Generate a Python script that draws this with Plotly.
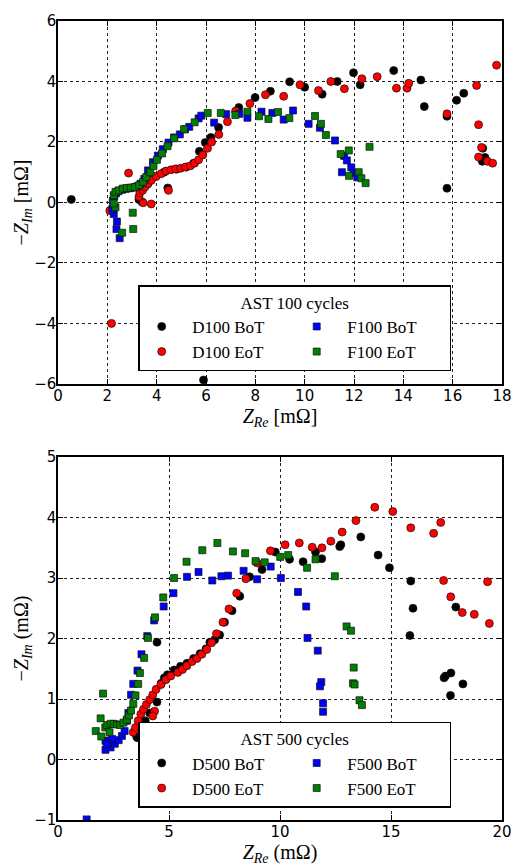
import plotly.graph_objects as go

# ---------------- top panel: AST 100 cycles ----------------
d100_bot_x = [0.54, 5.90, 3.28, 3.40, 4.45, 3.62, 3.92, 4.30, 4.80, 5.20, 5.50,
              5.73, 5.97, 6.20, 6.51, 7.33, 7.99, 8.61, 9.39, 10.00, 10.71, 11.32,
              11.98, 12.25, 13.61, 14.71, 14.85, 15.77, 16.16, 16.45, 15.77, 17.22,
              17.31, 17.20]
d100_bot_y = [0.10, -5.87, 0.10, 0.02, 0.48, 0.60, 0.85, 1.00, 1.10, 1.17, 1.30,
              1.69, 1.98, 2.15, 2.48, 3.14, 3.47, 3.68, 3.99, 3.81, 3.58, 4.00,
              4.29, 3.89, 4.36, 4.05, 3.17, 2.85, 3.38, 3.61, 0.47, 1.79,
              1.49, 1.36]

d100_eot_x = [2.86, 2.17, 2.10, 3.45, 3.78, 4.48, 3.28, 3.32, 3.43, 3.52, 3.65,
              3.78, 3.98, 4.18, 4.38, 4.58, 4.77, 4.97, 5.17, 5.37, 5.54, 5.70,
              5.87, 6.06, 6.23, 6.52, 6.87, 7.20, 7.78, 8.41, 9.15, 9.81, 10.56,
              11.06, 11.61, 12.32, 12.94, 13.72, 14.15, 14.22, 15.77, 16.97, 17.05,
              17.17, 17.05, 17.41, 17.62, 17.78]
d100_eot_y = [0.97, -4.00, -0.27, -0.01, -0.05, 0.40, 0.19, 0.32, 0.40, 0.51, 0.62,
              0.73, 0.86, 0.95, 1.04, 1.08, 1.11, 1.13, 1.17, 1.21, 1.30, 1.41,
              1.57, 1.79, 2.00, 2.25, 2.67, 3.02, 3.27, 3.56, 3.51, 3.89, 3.70,
              4.00, 3.76, 4.09, 4.16, 3.78, 3.78, 3.94, 2.93, 3.87, 2.57,
              1.82, 1.50, 1.36, 1.30, 4.54]

f100_bot_x = [2.50, 2.37, 2.39, 2.26, 2.20, 2.22, 2.28, 2.35, 2.45, 2.60, 2.75,
              2.90, 3.05, 3.20, 3.35, 3.50, 3.65, 3.85, 4.05, 4.25, 4.48, 4.71,
              4.94, 5.15, 5.32, 5.70, 5.81, 6.33, 6.82, 7.35, 7.68, 8.25, 8.69,
              9.15, 9.53, 10.16, 10.62, 11.23, 11.60, 11.71, 11.89, 11.51, 11.99,
              12.13]
f100_bot_y = [-1.18, -0.88, -0.63, -0.38, -0.22, 0.05, 0.20, 0.30, 0.37, 0.42, 0.45,
              0.47, 0.49, 0.53, 0.62, 0.78, 1.06, 1.33, 1.55, 1.76, 1.98, 2.15,
              2.25, 2.42, 2.50, 2.78, 2.87, 2.64, 2.92, 2.93, 2.80, 3.00, 2.96,
              2.74, 3.04, 2.60, 2.47, 2.05, 1.54, 1.39, 1.16, 1.00, 0.98,
              0.83]

f100_eot_x = [2.33, 2.26, 2.60, 3.03, 3.05, 2.26, 2.33, 2.46, 2.63, 2.79, 2.95,
              3.12, 3.29, 3.45, 3.58, 3.74, 3.87, 4.01, 4.22, 4.44, 4.71, 5.11,
              5.54, 6.07, 6.60, 7.19, 7.68, 8.15, 8.53, 8.92, 9.38, 10.42, 10.66,
              10.86, 11.46, 11.79, 11.80, 12.19, 12.30, 12.47, 12.63]
f100_eot_y = [-0.16, -0.03, -1.00, -0.34, -0.88, 0.24, 0.35, 0.40, 0.46, 0.48, 0.49,
              0.51, 0.57, 0.68, 0.84, 1.00, 1.20, 1.41, 1.62, 1.86, 2.12, 2.42,
              2.65, 2.96, 2.96, 2.89, 3.00, 2.85, 2.76, 2.99, 2.79, 2.86, 2.60,
              2.23, 1.60, 1.72, 0.88, 1.00, 0.80, 0.64, 1.84]

# ---------------- bottom panel: AST 500 cycles ----------------
d500_bot_x = [3.54, 3.58, 3.93, 4.13, 4.46, 4.46, 4.65, 4.79, 4.93, 5.23, 5.52,
              5.81, 6.11, 6.40, 6.67, 6.84, 7.06, 7.28, 7.50, 7.84, 8.19, 8.63,
              9.19, 9.79, 10.43, 11.04, 11.60, 11.88, 12.69, 12.74, 13.64, 14.42,
              14.93, 15.89, 15.99, 15.85, 17.92, 17.39, 17.45, 17.70, 18.24, 17.68]
d500_bot_y = [0.38, 0.36, 0.64, 0.77, 0.95, 1.94, 1.26, 1.35, 1.40, 1.48, 1.54,
              1.59, 1.67, 1.75, 1.83, 1.94, 1.98, 2.06, 2.27, 2.46, 2.70, 3.02,
              3.14, 3.43, 3.31, 3.27, 3.43, 3.32, 3.52, 3.55, 3.68, 3.38,
              3.17, 2.95, 2.50, 2.05, 2.52, 1.35, 1.38, 1.43, 1.25, 1.06]

d500_eot_x = [3.39, 3.49, 3.61, 3.73, 3.85, 3.98, 4.13, 4.27, 4.42, 4.64, 4.86,
              5.08, 5.40, 5.61, 5.81, 6.04, 6.26, 6.48, 6.70, 6.92, 7.14, 7.43,
              7.70, 8.05, 8.46, 8.97, 9.57, 10.23, 10.87, 11.45, 11.89, 12.29,
              12.80, 13.42, 14.27, 15.08, 15.89, 16.92, 17.24, 17.37, 17.69, 18.21,
              18.75, 19.35, 19.43, 4.35, 4.27]
d500_eot_y = [0.45, 0.53, 0.64, 0.75, 0.83, 0.91, 0.99, 1.07, 1.16, 1.24, 1.32,
              1.38, 1.44, 1.49, 1.55, 1.62, 1.67, 1.74, 1.82, 1.93, 2.08, 2.27,
              2.49, 2.75, 2.99, 3.25, 3.45, 3.55, 3.58, 3.51, 3.50, 3.61,
              3.76, 3.95, 4.17, 4.10, 3.83, 3.74, 3.92, 2.96, 2.69, 2.43,
              2.40, 2.94, 2.25, 0.80, 0.72]

f500_bot_x = [1.29, 2.14, 2.37, 2.56, 2.73, 2.88, 3.00, 3.10, 3.17, 3.29, 3.39,
              3.58, 3.76, 4.02, 4.33, 4.76, 5.20, 5.81, 6.33, 6.95, 7.36, 7.66,
              8.36, 8.97, 9.58, 10.04, 10.81, 11.18, 11.24, 11.70, 11.86, 11.80,
              11.94, 11.94, 2.14, 2.29, 2.44, 2.20]
f500_bot_y = [-0.99, 0.16, 0.20, 0.26, 0.32, 0.39, 0.47, 0.64, 0.77, 1.07, 1.25,
              1.47, 1.74, 2.04, 2.30, 2.53, 2.75, 3.02, 3.10, 2.96, 3.03, 3.04,
              3.12, 2.98, 3.19, 3.00, 2.77, 2.53, 2.01, 1.80, 1.28, 1.21,
              0.93, 0.79, 0.31, 0.31, 0.34, 0.25]

f500_eot_x = [2.03, 1.92, 1.70, 1.95, 2.13, 2.22, 2.37, 2.51, 2.66, 2.80, 2.95,
              3.10, 3.20, 3.29, 3.39, 3.49, 3.61, 3.69, 3.88, 4.05, 4.37, 4.74,
              5.23, 5.79, 6.50, 7.18, 7.88, 8.43, 8.90, 9.31, 10.01, 10.37, 11.22,
              11.60, 12.47, 13.00, 13.20, 13.32, 13.29, 13.36, 13.58, 13.69, 2.32]
f500_eot_y = [1.09, 0.68, 0.47, 0.38, 0.53, 0.57, 0.59, 0.59, 0.58, 0.57, 0.61,
              0.66, 0.73, 0.81, 0.92, 1.06, 1.25, 1.43, 1.68, 2.01, 2.35, 2.68,
              3.00, 3.27, 3.46, 3.58, 3.44, 3.41, 3.28, 3.26, 3.35, 3.38, 3.17,
              3.31, 3.03, 2.20, 2.13, 1.52, 1.26, 1.24, 0.98, 0.90, 0.45]

legend_titles = ["AST 100 cycles", "AST 500 cycles"]
x_titles = ["<i>Z</i><sub><i>Re</i></sub> [mΩ]", "<i>Z</i><sub><i>Re</i></sub> (mΩ)"]
y_titles = ["−<i>Z</i><sub><i>Im</i></sub> [mΩ]", "−<i>Z</i><sub><i>Im</i></sub> (mΩ)"]

RED, BLUE, GREEN, BLACK = "#ff0000", "#0000ff", "#008000", "#000000"
SERIF = "Liberation Serif"
SANS = "DejaVu Sans"
PAD = "\u00a0\u00a0"

fig = go.Figure()


def add_set(xa, ya, legend, series):
    for name, xs, ys, color, symbol, rank in series:
        fig.add_trace(go.Scatter(
            x=xs, y=ys, mode="markers", name=PAD + name,
            xaxis=xa, yaxis=ya, legend=legend, legendrank=rank,
            marker=dict(color=color, symbol=symbol,
                        size=8 if symbol == "circle" else 7,
                        line=dict(color="#111111", width=0.7)),
        ))


add_set("x", "y", "legend", [
    ("D100 BoT", d100_bot_x, d100_bot_y, BLACK, "circle", 1),
    ("D100 EoT", d100_eot_x, d100_eot_y, RED, "circle", 3),
    ("F100 BoT", f100_bot_x, f100_bot_y, BLUE, "square", 2),
    ("F100 EoT", f100_eot_x, f100_eot_y, GREEN, "square", 4),
])
add_set("x2", "y2", "legend2", [
    ("D500 BoT", d500_bot_x, d500_bot_y, BLACK, "circle", 1),
    ("D500 EoT", d500_eot_x, d500_eot_y, RED, "circle", 3),
    ("F500 BoT", f500_bot_x, f500_bot_y, BLUE, "square", 2),
    ("F500 EoT", f500_eot_x, f500_eot_y, GREEN, "square", 4),
])

W, H = 524, 868
ML, MR, MT, MB = 58, 12, 12, 48
PH = H - MT - MB
panel = 367 / PH


def axis_common(xaxis):
    return dict(showline=True, linecolor="black", linewidth=1.5, mirror="allticks",
                ticks="inside", ticklen=5, tickwidth=1, tickcolor="black",
                showgrid=True, gridcolor="#222222", griddash="dot", gridwidth=1,
                zeroline=False, ticklabelstandoff=-3,
                tickfont=dict(family=SANS, size=15, color="black"))


def title_cfg(text, standoff):
    return dict(text=text, font=dict(family=SERIF, size=20, color="black"),
                standoff=standoff)


def legend_cfg(title, ytop):
    return dict(title=dict(text=title, side="top center",
                           font=dict(family=SERIF, size=17, color="black")),
                x=(140 - ML) / (W - ML - MR), y=ytop, xanchor="left", yanchor="top",
                orientation="h", entrywidth=106, itemwidth=34,
                bgcolor="white", bordercolor="black", borderwidth=1.5,
                font=dict(family=SERIF, size=17, color="black"))


fig.update_layout(
    width=W, height=H, margin=dict(l=ML, r=MR, t=MT, b=MB),
    paper_bgcolor="white", plot_bgcolor="white", showlegend=True,
    xaxis=dict(domain=[0, 1], anchor="y", range=[0, 18], dtick=2, tick0=0,
               title=title_cfg(x_titles[0], 0), **axis_common(True)),
    yaxis=dict(domain=[1 - panel, 1], anchor="x", range=[-6, 6], dtick=2, tick0=0,
               title=title_cfg(y_titles[0], 0), **axis_common(False)),
    xaxis2=dict(domain=[0, 1], anchor="y2", range=[0, 20], dtick=5, tick0=0,
                title=title_cfg(x_titles[1], 0), **axis_common(True)),
    yaxis2=dict(domain=[0, panel], anchor="x2", range=[-1, 5], dtick=1, tick0=0,
                title=title_cfg(y_titles[1], 0), **axis_common(False)),
    legend=legend_cfg(legend_titles[0], (H - MB - 279.3) / PH),
    legend2=legend_cfg(legend_titles[1], (H - MB - 720.7) / PH),
)

fig.write_html("out.html")
